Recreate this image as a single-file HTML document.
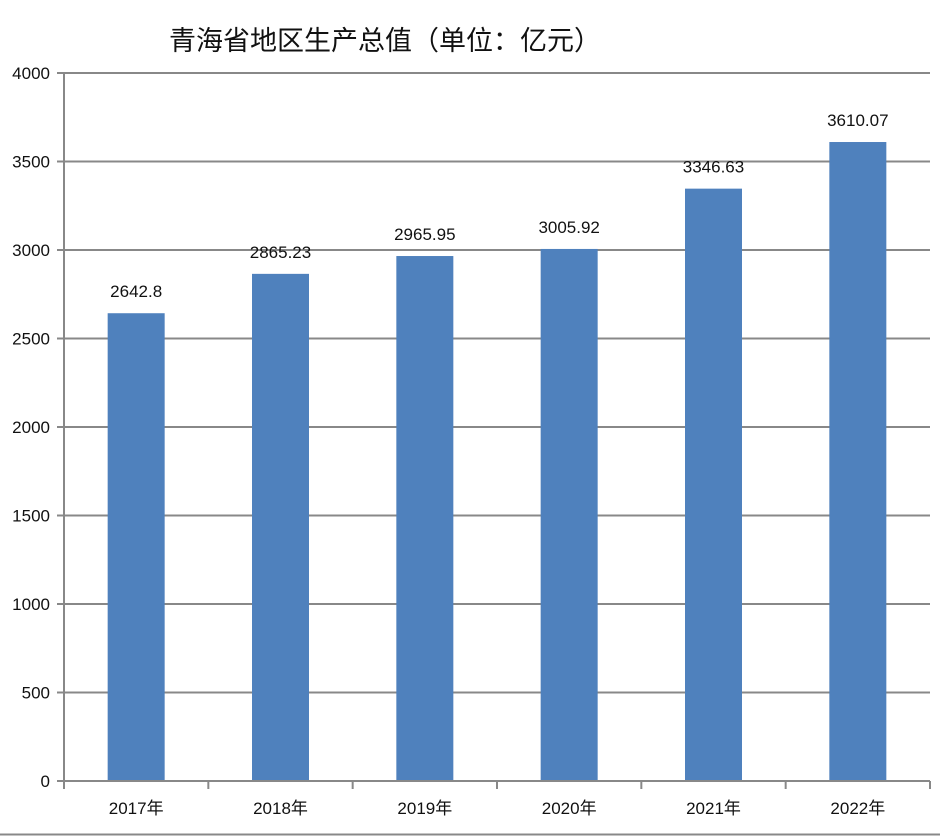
<!DOCTYPE html>
<html><head><meta charset="utf-8"><style>
body{margin:0;background:#fff;}
svg{display:block;font-family:"Liberation Sans","Noto Sans CJK SC",sans-serif;}
</style></head><body>
<svg id="c" width="940" height="836">
<text x="385" y="50" font-size="27" text-anchor="middle" fill="#111">青海省地区生产总值（单位：亿元）</text>
<line x1="0" y1="834.5" x2="940" y2="834.5" stroke="#888" stroke-width="2"/>
<g id="grid"></g><g id="bars"></g><g id="axes"></g>
</svg>
<script>
const categories=["2017年","2018年","2019年","2020年","2021年","2022年"];
const values=[2642.8,2865.23,2965.95,3005.92,3346.63,3610.07];
const labels=["2642.8","2865.23","2965.95","3005.92","3346.63","3610.07"];
const yTicks=[0,500,1000,1500,2000,2500,3000,3500,4000];
const NS="http://www.w3.org/2000/svg";
const L=64,R=930,T=73,B=781,YMAX=4000;
const y=v=>B-(v/YMAX)*(B-T);
const bw=(R-L)/categories.length;
const x=i=>L+bw*i+bw/2;
function mk(tag,attrs,parent){const e=document.createElementNS(NS,tag);for(const k in attrs)e.setAttribute(k,attrs[k]);document.getElementById(parent).appendChild(e);return e;}
yTicks.forEach(t=>{
  if(t>0){const g=mk('line',{x1:L,x2:R,y1:y(t),y2:y(t),stroke:'#888','stroke-width':2},'grid');
  
  }
  const tk=mk('line',{x1:L-7,x2:L,y1:y(t),y2:y(t),stroke:'#888','stroke-width':2},'axes');
  
  
  const tx=mk('text',{x:50,y:y(t)+6,'font-size':17,'text-anchor':'end',fill:'#111'},'axes');
  tx.textContent=t;
  
  
});
values.forEach((v,i)=>{
  const w=57;
  const r=mk('rect',{x:x(i)-w/2,y:y(v),width:w,height:B-y(v),fill:'#4f81bd'},'bars');
  
  
  const lb=mk('text',{x:x(i),y:y(v)-16,'font-size':17,'text-anchor':'middle',fill:'#111'},'bars');
  lb.textContent=labels[i];
  
  
  const cl=mk('text',{x:x(i),y:814,'font-size':17,'text-anchor':'middle',fill:'#111'},'axes');
  cl.textContent=categories[i];
  
  
});
for(let i=0;i<=categories.length;i++){
  const t=mk('line',{x1:L+bw*i,x2:L+bw*i,y1:B,y2:B+8,stroke:'#888','stroke-width':2},'axes');
  
  
}
const ya=mk('line',{x1:L,x2:L,y1:T,y2:B,stroke:'#888','stroke-width':2},'axes');


const xa=mk('line',{x1:L-7,x2:R,y1:B,y2:B,stroke:'#888','stroke-width':2},'axes');


</script>
</body></html>
